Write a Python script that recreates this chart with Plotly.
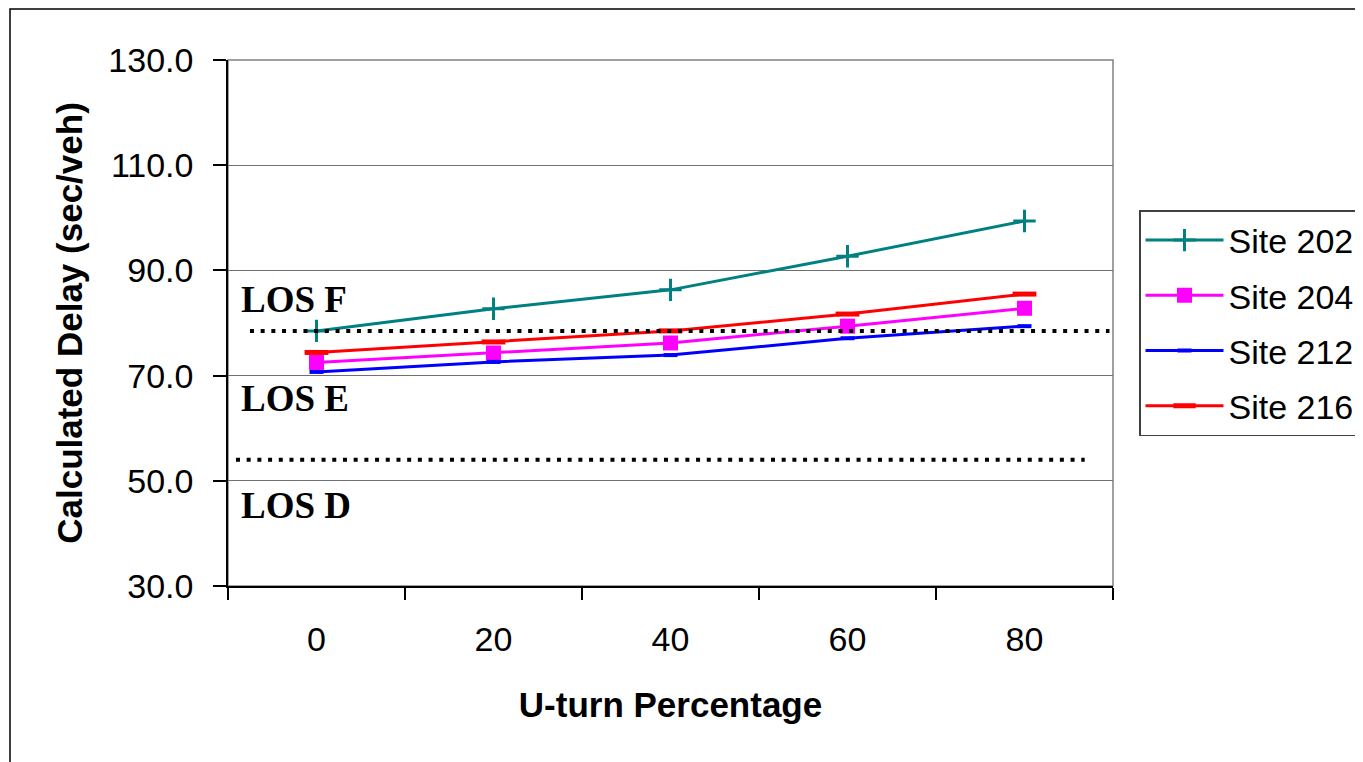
import plotly.graph_objects as go

categories = ["0", "20", "40", "60", "80"]
site_202 = [78.5, 82.7, 86.3, 92.7, 99.4]
site_204 = [72.5, 74.3, 76.2, 79.4, 82.8]
site_212 = [70.7, 72.6, 73.9, 77.1, 79.4]
site_216 = [74.4, 76.4, 78.5, 81.7, 85.5]
los_thresholds = [78.5, 54.0]
los_labels = ["LOS F", "LOS E", "LOS D"]
los_label_y = [84.4, 65.7, 45.4]

SANS = "Liberation Sans, Arial, sans-serif"
SERIF = "Liberation Serif, Times New Roman, serif"

# page body offset (browser default margin)
OFF = 8
W, H = 1363, 762
PL, PR, PT, PB = 228, 1113, 60, 586  # plot area in page pixels

fig = go.Figure()

series = [
    ("Site 202", site_202, "#008080", dict(symbol="cross-thin", size=16, line=dict(color="#008080", width=3))),
    ("Site 204", site_204, "#FF00FF", dict(symbol="square", size=15, color="#FF00FF")),
    ("Site 212", site_212, "#0000FF", dict(symbol="line-ew", size=10, line=dict(color="#0000FF", width=4))),
    ("Site 216", site_216, "#FF0000", dict(symbol="line-ew", size=17, line=dict(color="#FF0000", width=5))),
]
for i, (name, vals, color, marker) in enumerate(series):
    fig.add_trace(go.Scatter(
        x=categories, y=vals, name=name, mode="lines+markers",
        line=dict(color=color, width=3), marker=marker,
        legendgroup=f"g{i}", cliponaxis=False,
    ))

pw, ph = PR - PL, PB - PT
# plot-area frame (gray top/right)
fig.add_shape(type="rect", xref="paper", yref="paper", x0=0, x1=1, y0=0, y1=1,
              line=dict(color="#808080", width=1.5), layer="below")
# outer chart border
fig.add_shape(type="rect", xref="paper", yref="paper",
              x0=(10 - PL) / pw, x1=(1385 - PL) / pw,
              y0=(PB - 785) / ph, y1=(PB - 9) / ph,
              line=dict(color="#000000", width=1.5))

# LOS threshold dotted lines
dot_extent = [(-0.376, 4.48), (-0.455, 4.34)]
for val, (xa, xb) in zip(los_thresholds, dot_extent):
    fig.add_shape(type="line", xref="x", yref="y", x0=xa, x1=xb, y0=val, y1=val,
                  line=dict(color="#000000", width=4, dash="4px,6.7px"), layer="above")

for txt, yv in zip(los_labels, los_label_y):
    fig.add_annotation(x=-0.44, y=yv, xref="x", yref="y", text=f"<b>{txt}</b>",
                       showarrow=False, xanchor="left", yanchor="middle",
                       font=dict(family=SERIF, size=37, color="#000000"))

fig.update_layout(
    width=W, height=H,
    margin=dict(l=PL - OFF, r=W - (PR - OFF), t=PT - OFF, b=H - (PB - OFF), autoexpand=False),
    paper_bgcolor="#FFFFFF", plot_bgcolor="#FFFFFF",
    font=dict(family=SANS, color="#000000"),
    showlegend=True,
    legend=dict(
        x=(1139 - OFF) / W, xref="container", y=1 - (210 - OFF) / H, yref="container",
        xanchor="left", yanchor="top",
        bordercolor="#404040", borderwidth=1.5, bgcolor="#FFFFFF",
        font=dict(family=SANS, size=34, color="#000000"),
        tracegroupgap=8, itemwidth=78,
    ),
    xaxis=dict(
        type="category", range=[-0.5, 4.5], tickson="boundaries",
        ticks="outside", ticklen=12, tickcolor="#000000", tickwidth=1.5,
        showline=True, linecolor="#000000", linewidth=1.5,
        showgrid=False, zeroline=False,
        tickfont=dict(family=SANS, size=34, color="#000000"),
        ticklabelstandoff=22,
        title=dict(text="<b>U-turn Percentage</b>", font=dict(family=SANS, size=35, color="#000000"), standoff=36),
    ),
    yaxis=dict(
        range=[30, 130], dtick=20, tick0=30, tickformat=".1f",
        ticks="outside", ticklen=13, tickcolor="#000000", tickwidth=1.5,
        showline=True, linecolor="#000000", linewidth=1.5,
        showgrid=True, gridcolor="#707070", gridwidth=1.2, zeroline=False,
        tickfont=dict(family=SANS, size=34, color="#000000"),
        ticklabelstandoff=13,
        title=dict(text="<b>Calculated Delay (sec/veh)</b>", font=dict(family=SANS, size=35, color="#000000"), standoff=15),
    ),
)

fig.write_html("out.html")
